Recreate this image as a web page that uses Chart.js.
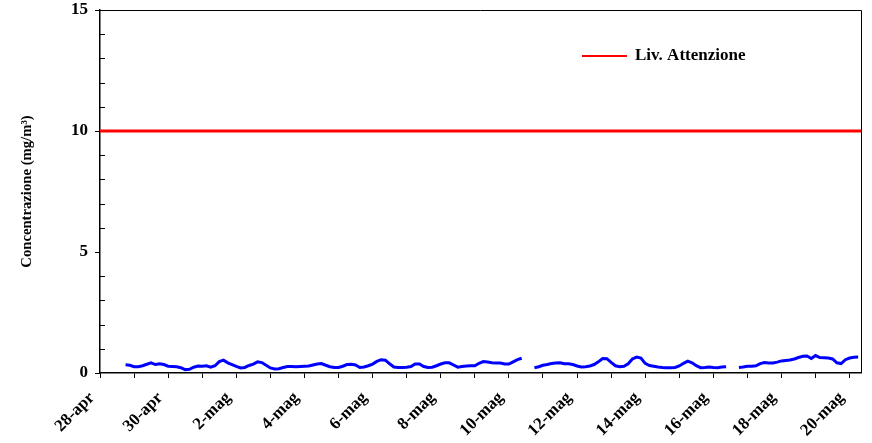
<!DOCTYPE html>
<html>
<head>
<meta charset="utf-8">
<script src="https://cdn.jsdelivr.net/npm/chart.js@4/dist/chart.umd.min.js"></script>
<style>
  html, body { margin: 0; padding: 0; background: #ffffff; }
  #wrap { width: 872px; height: 443px; }
</style>
</head>
<body>
<div id="wrap"><canvas id="chart" width="872" height="443"></canvas></div>
<script>
// Day labels of the x axis (one tick per day, a label every two days)
const dayLabels = ['28-apr','29-apr','30-apr','1-mag','2-mag','3-mag','4-mag','5-mag','6-mag','7-mag',
  '8-mag','9-mag','10-mag','11-mag','12-mag','13-mag','14-mag','15-mag','16-mag','17-mag','18-mag','19-mag','20-mag'];

// Sampling step of the concentration series, hours
const stepHours = 3;

// Concentration (mg/m3), one row per day, samples at 00,03,...,21 h; null = no data
const conc28apr = [null,null,null,null,null,null,0.34,0.32];
const conc29apr = [0.26,0.26,0.30,0.36,0.42,0.35,0.38,0.35];
const conc30apr = [0.28,0.27,0.26,0.22,0.14,0.15,0.24,0.29];
const conc01mag = [0.28,0.30,0.24,0.30,0.47,0.53,0.42,0.35];
const conc02mag = [0.27,0.21,0.23,0.31,0.37,0.46,0.43,0.32];
const conc03mag = [0.21,0.17,0.18,0.23,0.27,0.27,0.26,0.27];
const conc04mag = [0.28,0.29,0.33,0.37,0.39,0.32,0.26,0.23];
const conc05mag = [0.23,0.28,0.35,0.36,0.33,0.23,0.25,0.30];
const conc06mag = [0.37,0.48,0.55,0.53,0.38,0.25,0.23,0.23];
const conc07mag = [0.24,0.27,0.37,0.37,0.27,0.23,0.24,0.30];
const conc08mag = [0.37,0.42,0.42,0.33,0.24,0.27,0.29,0.30];
const conc09mag = [0.30,0.40,0.47,0.45,0.42,0.41,0.41,0.37];
const conc10mag = [0.37,0.46,0.55,0.61,null,null,0.22,0.26];
const conc11mag = [0.32,0.35,0.39,0.41,0.42,0.38,0.38,0.35];
const conc12mag = [0.29,0.25,0.26,0.29,0.35,0.46,0.60,0.59];
const conc13mag = [0.44,0.30,0.26,0.28,0.38,0.58,0.66,0.62];
const conc14mag = [0.40,0.31,0.28,0.25,0.23,0.22,0.22,0.23];
const conc15mag = [0.29,0.40,0.49,0.42,0.30,0.22,0.23,0.25];
const conc16mag = [0.23,0.22,0.25,0.26,null,null,0.23,0.25];
const conc17mag = [0.28,0.28,0.30,0.39,0.43,0.41,0.41,0.45];
const conc18mag = [0.50,0.52,0.54,0.58,0.64,0.69,0.70,0.60];
const conc19mag = [0.72,0.64,0.63,0.62,0.58,0.42,0.39,0.55];
const conc20mag = [0.62,0.65,0.66];

// Attention threshold
const attentionLevel = 10;

// Y axis range and tick steps
const yMin = 0, yMax = 15, yMajorStep = 5, yMinorStep = 1;
// X axis end (hours after 28-apr 00:00)
const xEndHours = 22 * 24 + 8;

const concentration = [].concat(conc28apr, conc29apr, conc30apr, conc01mag, conc02mag, conc03mag,
  conc04mag, conc05mag, conc06mag, conc07mag, conc08mag, conc09mag, conc10mag, conc11mag,
  conc12mag, conc13mag, conc14mag, conc15mag, conc16mag, conc17mag, conc18mag, conc19mag, conc20mag);

const concPoints = concentration.map((v, i) => ({ x: i * stepHours, y: v }));
const attentionPoints = [{ x: 0, y: attentionLevel }, { x: xEndHours, y: attentionLevel }];

const serif = "'Liberation Serif', 'Times New Roman', serif";

// Box around the plot, inward minor ticks on the y axis, and the legend entry
const framePlugin = {
  id: 'frame',
  afterDraw(chart) {
    const { ctx, chartArea: a, scales: { y } } = chart;
    ctx.save();
    ctx.strokeStyle = '#000000';
    ctx.lineWidth = 1;
    ctx.beginPath();
    ctx.moveTo(a.left, a.top + 0.5);
    ctx.lineTo(a.right + 0.5, a.top + 0.5);
    ctx.lineTo(a.right + 0.5, a.bottom);
    ctx.stroke();

    ctx.beginPath();
    for (let v = yMin + yMinorStep; v < yMax; v += yMinorStep) {
      if (v % yMajorStep === 0) continue;
      const py = Math.round(y.getPixelForValue(v)) + 0.5;
      ctx.moveTo(a.left, py);
      ctx.lineTo(a.left + 5, py);
    }
    ctx.stroke();

    // legend
    const ly = 56;
    ctx.strokeStyle = '#ff0000';
    ctx.lineWidth = 2;
    ctx.beginPath();
    ctx.moveTo(582, ly);
    ctx.lineTo(627, ly);
    ctx.stroke();
    ctx.fillStyle = '#000000';
    ctx.font = 'bold 17px ' + serif;
    ctx.textBaseline = 'middle';
    ctx.textAlign = 'left';
    ctx.fillText(chart.data.datasets[1].label, 635, ly);
    ctx.restore();
  }
};

new Chart(document.getElementById('chart'), {
  type: 'line',
  data: {
    datasets: [
      {
        label: 'Concentrazione',
        data: concPoints,
        borderColor: '#0000ff',
        borderWidth: 3,
        pointRadius: 0,
        spanGaps: false,
        tension: 0
      },
      {
        label: 'Liv. Attenzione',
        data: attentionPoints,
        borderColor: '#ff0000',
        borderWidth: 3,
        pointRadius: 0,
        tension: 0
      }
    ]
  },
  options: {
    responsive: false,
    animation: false,
    devicePixelRatio: 1,
    layout: { padding: { top: 10, right: 11, left: 0, bottom: 0 } },
    plugins: {
      legend: { display: false },
      tooltip: { enabled: false }
    },
    scales: {
      x: {
        type: 'linear',
        min: 0,
        max: xEndHours,
        afterBuildTicks(scale) {
          scale.ticks = dayLabels.map((_, i) => ({ value: i * 24 }));
        },
        afterFit(scale) {
          scale.height = 70;
          scale.paddingLeft = 0;
          scale.paddingRight = 0;
        },
        ticks: {
          autoSkip: false,
          minRotation: 45,
          maxRotation: 45,
          padding: 10,
          labelOffset: -8,
          color: '#000000',
          font: { family: serif, size: 17, weight: 'bold' },
          callback(value, index) { return index % 2 === 0 ? dayLabels[index] : ''; }
        },
        grid: { drawOnChartArea: false, drawTicks: true, tickLength: 5, color: '#000000', lineWidth: 1 },
        border: { display: true, color: '#000000', width: 1.5 }
      },
      y: {
        min: yMin,
        max: yMax,
        afterFit(scale) {
          scale.width = 100;
          scale.paddingTop = 0;
          scale.paddingBottom = 0;
        },
        ticks: {
          stepSize: yMajorStep,
          padding: 7,
          color: '#000000',
          font: { family: serif, size: 17, weight: 'bold' }
        },
        grid: { drawOnChartArea: false, drawTicks: true, tickLength: 5, color: '#000000', lineWidth: 1 },
        border: { display: true, color: '#000000', width: 1.5 },
        title: {
          display: true,
          text: 'Concentrazione (mg/m³)',
          color: '#000000',
          font: { family: serif, size: 14.7, weight: 'bold' },
          padding: { top: 18, bottom: 0 }
        }
      }
    }
  },
  plugins: [framePlugin]
});
</script>
</body>
</html>
